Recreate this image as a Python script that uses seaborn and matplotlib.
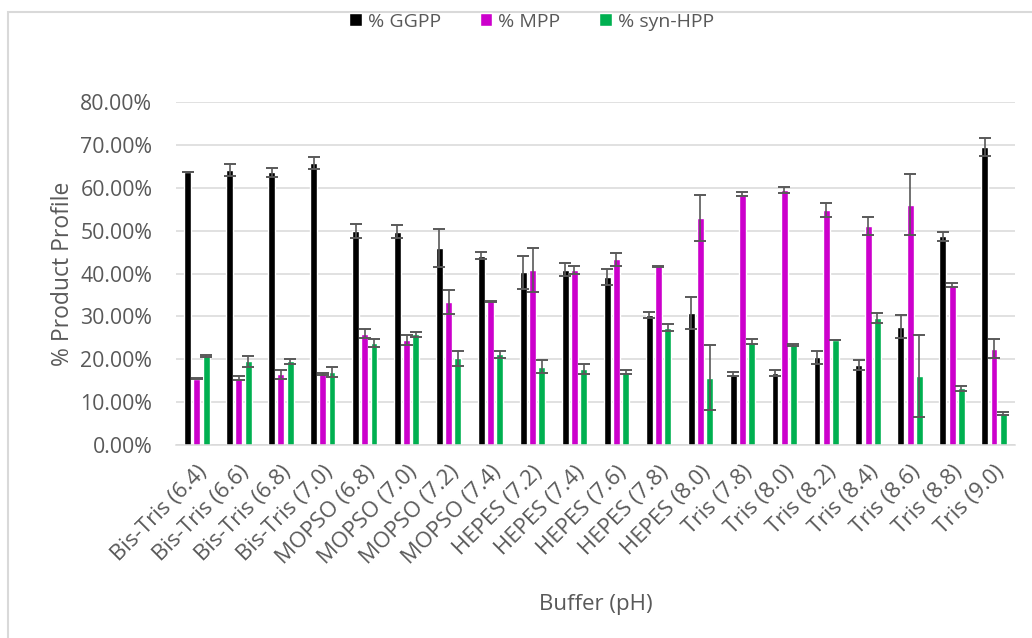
import numpy as np
import pandas as pd
import matplotlib
matplotlib.use("Agg")
import matplotlib.pyplot as plt
import matplotlib.patches as mpatches
import seaborn as sns

# Buffer conditions (x categories)
buffers = [
    "Bis-Tris (6.4)", "Bis-Tris (6.6)", "Bis-Tris (6.8)", "Bis-Tris (7.0)",
    "MOPSO (6.8)", "MOPSO (7.0)", "MOPSO (7.2)", "MOPSO (7.4)",
    "HEPES (7.2)", "HEPES (7.4)", "HEPES (7.6)", "HEPES (7.8)", "HEPES (8.0)",
    "Tris (7.8)", "Tris (8.0)", "Tris (8.2)", "Tris (8.4)", "Tris (8.6)",
    "Tris (8.8)", "Tris (9.0)",
]
products = ["% GGPP", "% MPP", "% syn-HPP"]

# Mean product profile (%)
ggpp = [63.7, 64.2, 63.6, 65.8, 50.0, 49.8, 46.0, 44.2, 40.3, 40.9,
        39.2, 30.4, 30.8, 16.5, 16.9, 20.5, 18.7, 27.6, 48.7, 69.6]
mpp = [15.5, 15.7, 16.5, 16.5, 26.0, 24.5, 33.3, 33.5, 40.9, 40.9,
       43.3, 41.7, 53.0, 58.6, 59.5, 54.8, 51.2, 56.1, 37.4, 22.5]
synhpp = [20.8, 19.5, 19.5, 17.1, 23.8, 25.8, 20.2, 21.2, 18.3, 17.8,
          17.0, 27.4, 15.7, 24.1, 23.3, 24.5, 29.6, 16.1, 13.2, 7.3]

# Standard deviations (%)
ggpp_err = [0.1, 1.4, 1.0, 1.3, 1.6, 1.5, 4.5, 0.75, 3.9, 1.55,
            1.8, 0.7, 3.7, 0.5, 0.7, 1.5, 1.2, 2.7, 1.0, 2.1]
mpp_err = [0.2, 0.5, 1.0, 0.2, 1.1, 1.1, 2.8, 0.2, 5.1, 0.9,
           1.5, 0.1, 5.4, 0.4, 0.6, 1.6, 2.1, 7.1, 0.5, 2.2]
synhpp_err = [0.2, 1.2, 0.5, 1.2, 0.85, 0.5, 1.8, 0.8, 1.55, 1.2,
              0.4, 0.8, 7.6, 0.6, 0.2, 0.1, 1.1, 9.6, 0.5, 0.35]

colors = ["#000000", "#CC00CC", "#00B050"]
text_color = "#595959"
grid_color = "#D9D9D9"

df = pd.DataFrame({
    "Buffer": buffers * 3,
    "Product": [p for p in products for _ in buffers],
    "Value": ggpp + mpp + synhpp,
})
errors = [ggpp_err, mpp_err, synhpp_err]

sns.set_theme(style="white")
plt.rcParams["font.family"] = ["Open Sans", "DejaVu Sans"]

fig = plt.figure(figsize=(10.32, 6.38), dpi=100)
ax = fig.add_axes([0.1705, 0.3025, 0.813, 0.5375])

sns.barplot(data=df, x="Buffer", y="Value", hue="Product",
            hue_order=products, order=buffers, palette=colors,
            width=0.66, gap=0.25, errorbar=None, saturation=1,
            ax=ax, legend=True)

# Error bars centred on each bar top
for cont, errs in zip(ax.containers, errors):
    xs = [p.get_x() + p.get_width() / 2 for p in cont.patches]
    ys = [p.get_height() for p in cont.patches]
    ax.errorbar(xs, ys, yerr=errs, fmt="none", ecolor="#595959",
                elinewidth=1.2, capsize=4.3, capthick=1.4, zorder=5)

ax.set_ylim(0, 80)
ax.set_xlim(-0.5, len(buffers) - 0.5)
ax.set_yticks(np.arange(0, 81, 10))
ax.set_yticklabels([f"{v:.2f}%" for v in np.arange(0, 81, 10)])
ax.yaxis.grid(True, color=grid_color, linewidth=1.1)
ax.set_axisbelow(True)
for s in ["top", "right", "left"]:
    ax.spines[s].set_visible(False)
ax.spines["bottom"].set_color(grid_color)
ax.spines["bottom"].set_linewidth(1.1)

ax.tick_params(axis="y", length=0, pad=17, labelsize=15.3, labelcolor=text_color)
ax.tick_params(axis="x", length=0, pad=12, labelsize=16, labelcolor=text_color)
for lbl in ax.get_xticklabels():
    lbl.set_rotation(45)
    lbl.set_ha("right")
    lbl.set_va("top")
    lbl.set_rotation_mode("anchor")

ax.set_xlabel("Buffer (pH)", fontsize=16, color=text_color, labelpad=18)
ax.set_ylabel("% Product Profile", fontsize=16.5, color=text_color, labelpad=4)

handles, labels = ax.get_legend_handles_labels()
ax.get_legend().remove()
fig.legend(handles, labels, loc="center", bbox_to_anchor=(0.515, 0.966),
           ncol=3, frameon=False, fontsize=14, labelcolor=text_color,
           handlelength=0.65, handleheight=0.65, handletextpad=0.3,
           columnspacing=2.0)

# Chart-area frame
fig.patches.append(mpatches.Rectangle(
    (8 / 1032, -0.1), 1.2, 1.1 - 12 / 638, transform=fig.transFigure,
    fill=False, edgecolor=grid_color, linewidth=1.5, clip_on=False))

fig.savefig("out.png", dpi=100, facecolor="white")
